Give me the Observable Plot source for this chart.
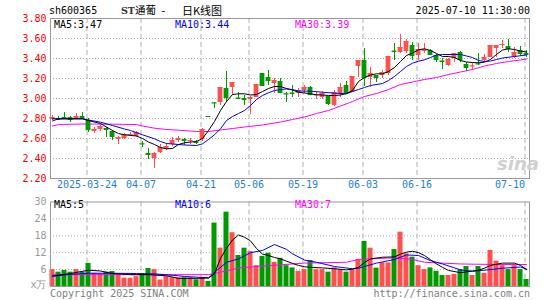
<!DOCTYPE html>
<html><head><meta charset="utf-8">
<script src="https://cdn.jsdelivr.net/npm/d3@7"></script>
<script src="https://cdn.jsdelivr.net/npm/@observablehq/plot@0.6"></script>
<style>
body{margin:0;background:#fff;}
#wrap{position:relative;width:545px;height:300px;overflow:hidden;font-family:"DejaVu Sans Mono",monospace;font-size:10px;}
.t{position:absolute;white-space:pre;line-height:10px;}
#price,#vol{position:absolute;left:0;}
#price{top:0}
#vol{top:195px}
</style></head><body><div id="wrap"><div id="price"></div><div id="vol"></div></div>
<script>
// ---- data ----
const dates = ["2025-03-14","2025-03-17","2025-03-18","2025-03-19","2025-03-20","2025-03-21","2025-03-24","2025-03-25","2025-03-26","2025-03-27","2025-03-28","2025-03-31","2025-04-01","2025-04-02","2025-04-03","2025-04-07","2025-04-08","2025-04-09","2025-04-10","2025-04-11","2025-04-14","2025-04-15","2025-04-16","2025-04-17","2025-04-18","2025-04-21","2025-04-22","2025-04-23","2025-04-24","2025-04-25","2025-04-28","2025-04-29","2025-04-30","2025-05-06","2025-05-07","2025-05-08","2025-05-09","2025-05-12","2025-05-13","2025-05-14","2025-05-15","2025-05-16","2025-05-19","2025-05-20","2025-05-21","2025-05-22","2025-05-23","2025-05-26","2025-05-27","2025-05-28","2025-05-29","2025-05-30","2025-06-03","2025-06-04","2025-06-05","2025-06-06","2025-06-09","2025-06-10","2025-06-11","2025-06-12","2025-06-13","2025-06-16","2025-06-17","2025-06-18","2025-06-19","2025-06-20","2025-06-23","2025-06-24","2025-06-25","2025-06-26","2025-06-27","2025-06-30","2025-07-01","2025-07-02","2025-07-03","2025-07-04","2025-07-07","2025-07-08","2025-07-09","2025-07-10"];
const open  = [2.79,2.80,2.81,2.81,2.80,2.82,2.78,2.67,2.69,2.70,2.67,2.59,2.60,2.63,2.62,2.55,2.45,2.40,2.46,2.49,2.54,2.58,2.59,2.57,2.565,2.59,2.82,2.96,2.96,3.10,3.11,3.005,3.00,2.99,3.01,3.25,3.21,3.15,3.17,3.05,3.055,3.05,3.08,3.11,3.03,3.01,3.02,2.93,3.05,3.13,3.06,3.32,3.38,3.21,3.23,3.23,3.25,3.475,3.46,3.47,3.53,3.43,3.47,3.48,3.43,3.375,3.33,3.40,3.46,3.34,3.32,3.35,3.38,3.41,3.50,3.53,3.52,3.41,3.48,3.45];
const high  = [2.83,2.82,2.86,2.82,2.85,2.86,2.80,2.71,2.73,2.71,2.68,2.62,2.65,2.66,2.67,2.57,2.50,2.46,2.54,2.55,2.61,2.62,2.60,2.60,2.58,2.70,2.82,2.96,3.11,3.27,3.16,3.06,3.03,3.02,3.14,3.25,3.28,3.20,3.20,3.06,3.13,3.10,3.13,3.12,3.06,3.07,3.02,3.08,3.15,3.17,3.22,3.38,3.50,3.31,3.23,3.28,3.42,3.55,3.64,3.59,3.56,3.55,3.55,3.49,3.44,3.40,3.40,3.45,3.47,3.36,3.35,3.45,3.44,3.53,3.53,3.58,3.59,3.51,3.52,3.48];
const low   = [2.78,2.78,2.79,2.76,2.79,2.79,2.66,2.65,2.67,2.61,2.58,2.54,2.59,2.62,2.61,2.51,2.39,2.30,2.45,2.48,2.52,2.56,2.53,2.54,2.54,2.57,2.82,2.90,2.93,2.96,3.03,3.00,2.93,2.84,3.01,3.12,3.13,3.05,3.06,2.96,3.01,3.01,3.05,3.03,2.99,2.99,2.93,2.92,3.01,3.05,3.06,3.21,3.12,3.11,3.16,3.20,3.23,3.38,3.45,3.45,3.38,3.38,3.45,3.43,3.36,3.29,3.32,3.36,3.36,3.27,3.28,3.33,3.36,3.41,3.41,3.50,3.46,3.40,3.42,3.41];
const close = [2.81,2.79,2.80,2.79,2.82,2.80,2.69,2.69,2.72,2.69,2.62,2.61,2.64,2.64,2.66,2.545,2.44,2.45,2.51,2.52,2.58,2.60,2.58,2.58,2.56,2.69,2.82,2.955,3.11,3.01,3.16,3.00,2.99,3.01,3.14,3.13,3.18,3.18,3.06,3.045,3.05,3.08,3.11,3.04,3.035,3.05,2.95,3.06,3.11,3.06,3.22,3.38,3.21,3.25,3.21,3.26,3.42,3.47,3.51,3.57,3.43,3.49,3.49,3.44,3.39,3.37,3.39,3.45,3.39,3.31,3.325,3.345,3.41,3.53,3.53,3.54,3.50,3.46,3.45,3.44];
const volume = [6.0,5.1,5.7,5.1,6.0,5.1,8.2,4.7,4.5,5.1,5.3,4.1,2.95,2.95,3.5,4.5,6.4,6.0,2.3,3.5,3.1,3.1,3.1,3.1,2.4,3.1,1.8,22.5,13.6,26.4,19.1,11.0,13.6,12.4,7.4,10.7,11.8,8.6,10.0,7.4,6.6,5.4,6.0,9.2,6.0,6.0,5.1,6.6,5.9,5.1,6.0,9.6,16.0,13.6,6.5,8.4,8.4,13.1,19.3,11.6,10.4,7.4,6.0,6.6,5.4,3.9,3.9,4.3,6.0,7.1,3.9,7.1,4.7,12.8,9.0,7.4,6.0,7.4,6.0,2.5];

// moving-average lines: [day index, value]
const priceMA5 = [[0,2.797],[5,2.797],[6,2.78],[8,2.75],[10,2.68],[11,2.65],[12,2.637],[14,2.625],[15,2.60],[16,2.565],[17,2.54],[18,2.51],[19,2.497],[20,2.50],[21,2.54],[22,2.557],[23,2.565],[24,2.57],[25,2.60],[26,2.68],[27,2.77],[28,2.88],[29,2.97],[30,3.04],[31,3.047],[32,3.047],[33,3.035],[34,3.04],[35,3.07],[36,3.10],[37,3.12],[38,3.12],[39,3.10],[40,3.085],[41,3.063],[42,3.055],[43,3.047],[44,3.037],[45,3.035],[46,3.03],[47,3.03],[48,3.035],[49,3.05],[50,3.08],[51,3.17],[52,3.21],[53,3.235],[54,3.247],[55,3.247],[56,3.27],[57,3.31],[58,3.37],[59,3.43],[60,3.455],[61,3.487],[62,3.497],[63,3.48],[64,3.45],[65,3.42],[66,3.42],[67,3.41],[68,3.38],[69,3.365],[70,3.36],[71,3.357],[72,3.363],[73,3.39],[74,3.44],[75,3.485],[76,3.497],[77,3.49],[78,3.475],[79,3.465]];
const priceMA10 = [[0,2.775],[1,2.797],[5,2.797],[6,2.785],[8,2.763],[10,2.73],[12,2.695],[13,2.68],[15,2.637],[17,2.597],[18,2.57],[19,2.55],[20,2.545],[22,2.535],[24,2.53],[25,2.547],[26,2.59],[27,2.637],[28,2.697],[29,2.78],[30,2.82],[31,2.85],[32,2.88],[33,2.93],[34,2.99],[35,3.03],[36,3.057],[37,3.08],[38,3.09],[39,3.095],[40,3.09],[41,3.075],[43,3.073],[45,3.063],[47,3.053],[49,3.047],[50,3.07],[51,3.09],[52,3.11],[53,3.13],[55,3.15],[56,3.18],[57,3.22],[58,3.27],[59,3.32],[60,3.353],[61,3.373],[62,3.387],[63,3.41],[64,3.435],[65,3.44],[68,3.44],[69,3.425],[70,3.41],[71,3.38],[72,3.37],[73,3.375],[74,3.39],[75,3.405],[77,3.42],[79,3.435]];
const priceMA30 = [[0,2.725],[1,2.74],[5,2.745],[10,2.743],[14,2.74],[15,2.725],[17,2.703],[19,2.69],[21,2.683],[24,2.67],[26,2.67],[28,2.685],[30,2.70],[32,2.715],[35,2.735],[38,2.765],[40,2.79],[42,2.815],[44,2.85],[46,2.88],[48,2.925],[50,2.97],[52,3.02],[54,3.05],[56,3.09],[58,3.14],[60,3.165],[62,3.19],[64,3.21],[66,3.24],[68,3.265],[70,3.29],[72,3.325],[74,3.35],[76,3.37],[78,3.385],[79,3.395]];
const volMA5 = [[0,3.8],[3,4.6],[6,5.8],[8,5.5],[10,4.6],[13,4.2],[16,4.2],[19,3.8],[21,2.9],[24,2.9],[26,3.0],[27,4.5],[28,10],[29,13.5],[30,16.5],[31,18.3],[32,17.5],[33,16.2],[34,13.5],[35,11.5],[36,11],[37,10.3],[38,9.8],[39,9],[40,8.2],[41,7.5],[42,7],[43,6.8],[45,6.6],[47,6.3],[49,5.9],[50,6.2],[51,6.8],[52,8.5],[53,9.8],[55,10.4],[57,10.5],[58,11.5],[59,12.2],[60,12.5],[61,12],[62,11],[63,9.5],[64,8],[65,6.8],[66,5.7],[68,4.9],[70,5.5],[71,5.8],[72,6.5],[73,7.5],[75,8.3],[77,8.3],[78,7.5],[79,6.0]];
const volMA10 = [[0,3.6],[3,4.3],[6,4.7],[10,4.7],[14,4.6],[17,4.5],[21,3.8],[22,3.55],[26,3.1],[27,5.0],[29,8.6],[31,9.8],[33,12],[35,12.8],[37,14.9],[39,13.2],[40,11.6],[42,9.4],[44,8.6],[47,7.1],[50,6.3],[51,6.5],[54,8.3],[57,9.6],[59,11.2],[61,11],[63,9.2],[65,8.0],[68,5.9],[70,5.4],[73,6.0],[75,6.5],[78,6.9],[79,6.2]];
const volMA30 = [[0,4.2],[10,4.2],[20,4.2],[26,4.2],[27,4.6],[28,5.1],[30,6.0],[31,6.6],[36,7.4],[42,8.3],[49,8.6],[51,9.6],[57,10.2],[60,9.6],[62,8.6],[68,8.0],[74,7.8],[79,7.8]];

const tickDates  = ["2025-03-24","2025-04-07","2025-04-21","2025-05-06","2025-05-19","2025-06-03","2025-06-16","2025-07-10"];
const tickLabels = ["2025-03-24","04-07","04-21","05-06","05-19","06-03","06-16","07-10"];
const priceTicks = [2.20,2.40,2.60,2.80,3.00,3.20,3.40,3.60,3.80];
const volTicks   = [6,12,18,24,30];
const volUnit    = "x万";
const symbol = "sh600365";
const title  = ["ST","通葡","-","日K线图"];
const stamp  = "2025-07-10 11:30:00";
const priceMALabels = ["MA5:3.47","MA10:3.44","MA30:3.39"];
const volMALabels   = ["MA5:5","MA10:6","MA30:7"];
const maColors = ["#000000","#0000ff","#ff00ff"];

// ---- build ----
const RED = "#ff5050", GREEN = "#009900";
const rows = dates.map((d,i)=>({i, o:open[i], h:high[i], l:low[i], c:close[i], v:volume[i], col: close[i] > open[i] ? RED : GREEN}));
const tickIdx = tickDates.map(d => dates.indexOf(d));
const xDom = [-1/3, 79.5];
const font = {fontFamily:"DejaVu Sans Mono", fontSize:"10px", background:"transparent", overflow:"visible"};
const gridStyle = {stroke:"#b0b0b0", strokeDasharray:"1,2"};
const dashStyle = {stroke:"#b0b0b0", strokeDasharray:"5,3"};
const maLine = (data, k) => Plot.line(data, {x:d=>d[0], y:d=>d[1], stroke:maColors[k], strokeWidth:1});

const price = Plot.plot({
  width:545, height:195, marginLeft:50, marginRight:16, marginTop:18, marginBottom:17,
  x:{domain:xDom, axis:null}, y:{domain:[2.2,3.8], axis:null},
  style:font,
  marks:[
    Plot.ruleY(priceTicks.slice(1,-1), gridStyle),
    Plot.ruleX(tickIdx, {x:d=>d-0.25, ...dashStyle}),
    Plot.frame({stroke:"#999"}),
    Plot.axisY({ticks:priceTicks, tickSize:0, tickPadding:4, tickFormat:d3.format(".2f"), color:"#ff0000", label:null}),
    Plot.text(tickIdx.slice(0,-1), {x:d=>d-0.25, text:(d,j)=>tickLabels[j], frameAnchor:"bottom", dy:9, fill:"#1e7fd8"}),
    Plot.text(tickIdx.slice(-1), {x:d=>d-0.25, text:()=>tickLabels[tickLabels.length-1], frameAnchor:"bottom", dy:9, textAnchor:"end", fill:"#1e7fd8"}),
    maLine(priceMA30, 2),
    Plot.ruleX(rows, {x:"i", y1:"l", y2:"h", stroke:"col"}),
    Plot.rect(rows, {x1:d=>d.i-0.4, x2:d=>d.i+0.4, y1:"o", y2:"c", fill:"col"}),
    Plot.ruleY(rows, {y:"c", x1:d=>d.i-0.4, x2:d=>d.i+0.4, stroke:"col"}),
    maLine(priceMA10, 1),
    maLine(priceMA5, 0),
  ]
});
document.getElementById("price").append(price);

const vol = Plot.plot({
  width:545, height:105, marginLeft:50, marginRight:16, marginTop:6.5, marginBottom:14,
  x:{domain:xDom, axis:null}, y:{domain:[0,30], axis:null},
  style:font,
  marks:[
    Plot.ruleY(volTicks.slice(0,-1), gridStyle),
    Plot.ruleX(tickIdx, {x:d=>d-0.25, ...dashStyle}),
    Plot.rect(rows, {x1:d=>d.i-0.42, x2:d=>d.i+0.42, y1:0, y2:"v", fill:"col"}),
    Plot.frame({stroke:"#999"}),
    Plot.axisY({ticks:volTicks, tickSize:0, tickPadding:4, color:"#999", label:null}),
    Plot.text([volUnit], {text:d=>d, frameAnchor:"bottom-left", dx:-4, dy:1, textAnchor:"end", fill:"#999"}),
    maLine(volMA30, 2),
    maLine(volMA10, 1),
    maLine(volMA5, 0),
  ]
});
document.getElementById("vol").append(vol);

// ---- texts ----
const wrap = document.getElementById("wrap");
function addText(str, left, top, css){
  const s = document.createElement("span");
  s.className = "t"; s.textContent = str;
  s.style.left = left + "px"; s.style.top = top + "px";
  Object.assign(s.style, css || {});
  wrap.append(s); return s;
}
addText(symbol, 49, 6, {color:"#000"});
addText(title[0], 121, 5, {fontFamily:"DejaVu Serif", fontWeight:"bold", fontSize:"9.5px", lineHeight:"11px", color:"#333"});
addText(title[1], 135, 4, {fontFamily:"Noto Sans CJK SC", fontSize:"10.5px", lineHeight:"12px"});
addText(title[2], 160, 5, {fontFamily:"DejaVu Sans Mono", fontSize:"11px", lineHeight:"11px"});
addText(title[3], 182, 4, {fontFamily:"Noto Sans CJK SC", fontSize:"11px", lineHeight:"12px"});
const st = addText(stamp, 0, 6, {color:"#000"}); st.style.left = ""; st.style.right = "15px";
const maX = [54, 175, 295];
priceMALabels.forEach((t,k)=>addText(t, maX[k], 20, {color:maColors[k]}));
volMALabels.forEach((t,k)=>addText(t, maX[k], 200, {color:maColors[k]}));
addText("Copyright 2025 SINA.COM", 50, 289, {color:"#808080"});
const url = addText("http://finance.sina.com.cn", 0, 289, {color:"#808080"}); url.style.left=""; url.style.right="15px";
addText("sina", 497, 155, {fontFamily:"DejaVu Sans", fontWeight:"bold", fontStyle:"italic", fontSize:"18px", lineHeight:"18px", color:"#d0d0d0"});
</script></body></html>
